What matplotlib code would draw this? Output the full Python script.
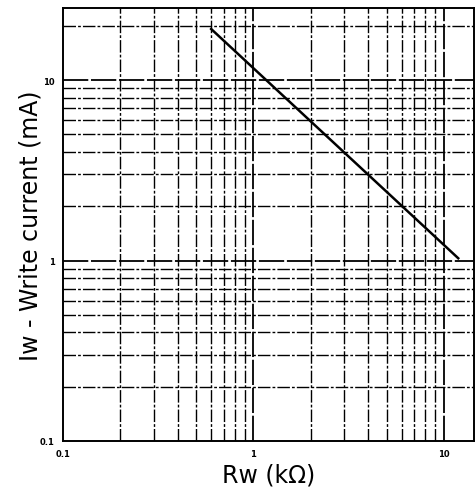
import matplotlib.pyplot as plt
from matplotlib.ticker import FixedLocator, NullFormatter

# Write current vs Rw (log-log)
rw = [0.6, 11.9]        # kOhm
iw = [19.2, 1.03]       # mA

x_ticks = [0.1, 1, 10]
x_labels = ['0.1', '1', '10']
y_ticks = [0.1, 1, 10]
y_labels = ['0.1', '1', '10']
x_minor = [0.2, 0.3, 0.4, 0.5, 0.6, 0.7, 0.8, 0.9, 2, 3, 4, 5, 6, 7, 8, 9]
y_minor = [0.2, 0.3, 0.4, 0.5, 0.6, 0.7, 0.8, 0.9, 2, 3, 4, 5, 6, 7, 8, 9, 20]

plt.rcParams['font.family'] = ['DejaVu Sans']

fig = plt.figure(figsize=(4.75, 4.89), dpi=100)
ax = fig.add_axes([63/475, 1 - 442/489, (474 - 63)/475, (442 - 9)/489])

ax.set_xscale('log')
ax.set_yscale('log')
ax.set_xlim(0.1, 14.4)
ax.set_ylim(0.1, 25.1)

# scanned-looking grid: broken lines everywhere
dash = (0, (9, 1.5, 2, 1.5))
for v in x_minor:
    ax.axvline(v, color='black', lw=1.0, linestyle=dash, zorder=1)
for v in [1, 10]:
    ax.axvline(v, color='black', lw=1.3, linestyle=(0, (14, 1.5)), zorder=1)
for v in y_minor:
    ax.axhline(v, color='black', lw=1.0, linestyle=dash, zorder=1)
for v in [1, 10]:
    ax.axhline(v, color='black', lw=1.3, linestyle=(0, (14, 1.5)), zorder=1)

ax.plot(rw, iw, color='black', lw=1.8, zorder=3)

ax.xaxis.set_major_locator(FixedLocator(x_ticks))
ax.yaxis.set_major_locator(FixedLocator(y_ticks))
ax.xaxis.set_minor_locator(FixedLocator([]))
ax.yaxis.set_minor_locator(FixedLocator([]))
ax.xaxis.set_minor_formatter(NullFormatter())
ax.yaxis.set_minor_formatter(NullFormatter())
ax.set_xticklabels(x_labels, fontsize=6, fontweight='bold')
ax.set_yticklabels(y_labels, fontsize=6, fontweight='bold')
ax.tick_params(length=0, pad=6)

for s in ax.spines.values():
    s.set_linewidth(1.4)
    s.set_color('black')

ax.set_xlabel('Rw (k\u03a9)', fontsize=17, labelpad=3)
ax.set_ylabel('Iw - Write current (mA)', fontsize=17, labelpad=-2)

fig.savefig('out.png', dpi=100)
